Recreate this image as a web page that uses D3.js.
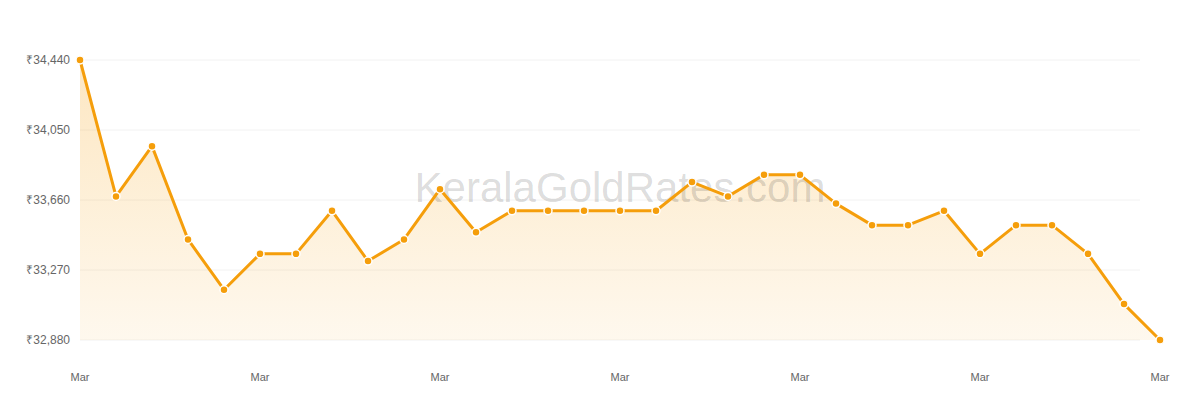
<!DOCTYPE html>
<html><head><meta charset="utf-8">
<script src="https://cdn.jsdelivr.net/npm/d3@7"></script>
<style>html,body{margin:0;padding:0;background:#fff;}svg{display:block;font-family:"Helvetica Neue",Arial,"Liberation Sans",sans-serif;}</style>
</head><body><svg id="c" width="1200" height="400"></svg>
<script>
const days = d3.range(1, 32);
const prices = [34440,33680,33960,33440,33160,33360,33360,33600,33320,33440,33720,33480,33600,33600,33600,33600,33600,33760,33680,33800,33800,33640,33520,33520,33600,33360,33520,33520,33360,33080,32880];
const yTicks = [32880,33270,33660,34050,34440];
const xTickDays = [1,6,11,16,21,26,31];
const xTickLabel = "Mar";
const watermark = "KeralaGoldRates.com";

const svg = d3.select("#c");
const x = d3.scaleLinear().domain([1,31]).range([80,1160]);
const y = d3.scaleLinear().domain([32880,34440]).range([340,60]);
const orange = "#f59e0b";

const defs = svg.append("defs");
const g = defs.append("linearGradient").attr("id","fillg").attr("x1",0).attr("y1",0).attr("x2",0).attr("y2",1);
g.append("stop").attr("offset","0%").attr("stop-color",orange).attr("stop-opacity",0.25);
g.append("stop").attr("offset","100%").attr("stop-color",orange).attr("stop-opacity",0.07);

svg.append("g").selectAll("line").data(yTicks).join("line")
  .attr("x1",80).attr("x2",1140).attr("y1",d=>y(d)).attr("y2",d=>y(d))
  .attr("stroke","#f2f2f2").attr("stroke-width",1);

svg.append("g").selectAll("text").data(yTicks).join("text")
  .attr("x",70).attr("y",d=>y(d)).attr("dy","0.35em").attr("text-anchor","end")
  .attr("font-size",12).attr("fill","#666")
  .text(d=>"₹"+d3.format(",")(d));

svg.append("g").selectAll("text").data(xTickDays).join("text")
  .attr("x",d=>x(d)).attr("y",377).attr("dy","0.35em").attr("text-anchor","middle")
  .attr("font-size",11).attr("fill","#666").text(xTickLabel);

const data = days.map((d,i)=>({d, v:prices[i]}));

svg.append("path").datum(data)
  .attr("d", d3.area().x(p=>x(p.d)).y0(y(32880)).y1(p=>y(p.v)))
  .attr("fill","url(#fillg)");

svg.append("text").attr("x",620).attr("y",187).attr("dy","0.35em").attr("text-anchor","middle")
  .attr("font-size",42).attr("fill","rgba(0,0,0,0.15)").text(watermark);

svg.append("path").datum(data)
  .attr("d", d3.line().x(p=>x(p.d)).y(p=>y(p.v)))
  .attr("fill","none").attr("stroke",orange).attr("stroke-width",3).attr("stroke-linejoin","round");

svg.append("g").selectAll("circle").data(data).join("circle")
  .attr("cx",p=>x(p.d)).attr("cy",p=>y(p.v)).attr("r",4)
  .attr("fill",orange).attr("stroke","#fff").attr("stroke-width",1.5);
</script></body></html>
